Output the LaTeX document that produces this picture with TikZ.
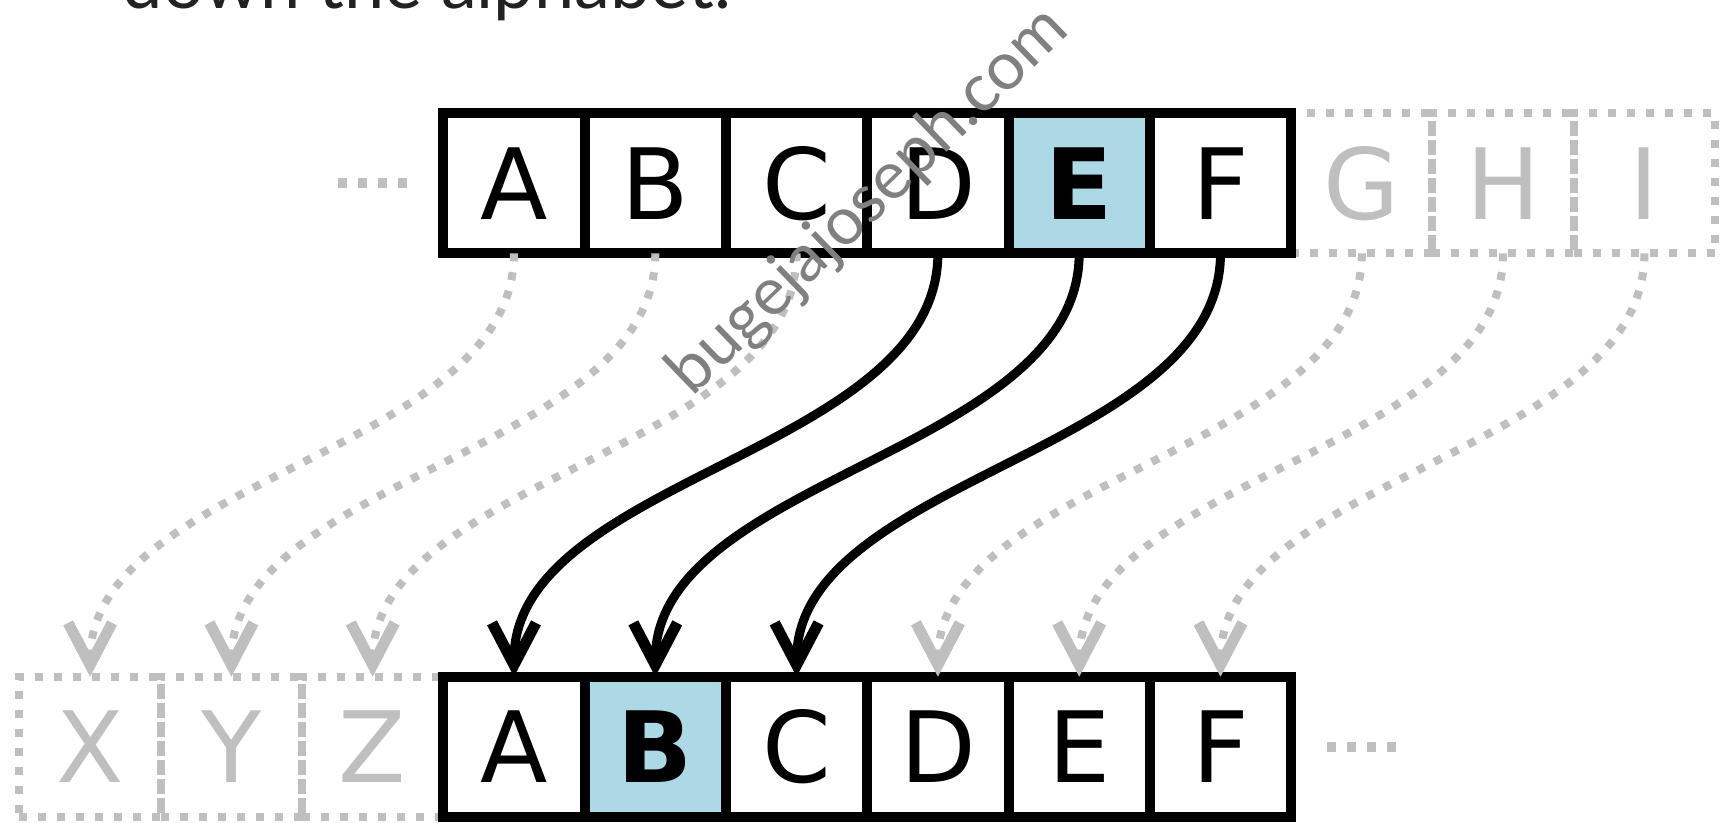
\documentclass[tikz,border=0pt]{standalone}
\usepackage{fontspec}
\setmainfont{DejaVu Sans}
\newfontfamily\blogfont{Lato}
\usetikzlibrary{arrows.meta,positioning,backgrounds}

\definecolor{shiftblue}{RGB}{173,216,230}
\definecolor{ghostgray}{RGB}{191,191,191}
\definecolor{markgray}{RGB}{128,128,128}
\definecolor{inkgray}{RGB}{34,34,34}

\begin{document}
\begin{tikzpicture}[
  node distance=0pt,
  cell/.style={draw, line width=1mm, minimum width=14.13mm, minimum height=14mm,
               inner sep=0pt, outer sep=0pt, font=\fontsize{28}{34}\selectfont},
  hit/.style={cell, fill=shiftblue, font=\fontsize{28}{34}\selectfont\bfseries},
  ghost/.style={cell, draw=ghostgray, text=ghostgray, line width=0.8mm,
                dash pattern=on 0.8mm off 1.1mm},
  shiftarrow/.style={draw, line width=0.9mm, out=-90, in=90, looseness=0.85,
                     -{Straight Barb[length=4.2mm, width=4.4mm, line width=1.1mm]}},
  wraparrow/.style={shiftarrow, draw=ghostgray, line width=0.8mm,
                    dash pattern=on 0.8mm off 1.1mm},
  moredots/.style={draw=ghostgray, line width=1mm, dash pattern=on 0.9mm off 1.1mm}
]
\useasboundingbox (0,0) rectangle (17.21,-8.22);

\node[anchor=base west, inner sep=0pt, text=inkgray,
      font=\blogfont\fontsize{20.5}{24}\selectfont] (title) at (1.22,-0.08) {down the alphabet.};

% plain alphabet
\node[cell] (plainA) at (5.14,-1.833) {A};
\node[cell, right=of plainA] (plainB) {B};
\node[cell, right=of plainB] (plainC) {C};
\node[cell, right=of plainC] (plainD) {D};
\node[hit, right=of plainD] (plainE) {E};
\node[cell, right=of plainE] (plainF) {F};

% shifted alphabet
\node[cell, below=42.34mm of plainA] (cipherA) {A};
\node[hit, right=of cipherA] (cipherB) {B};
\node[cell, right=of cipherB] (cipherC) {C};
\node[cell, right=of cipherC] (cipherD) {D};
\node[cell, right=of cipherD] (cipherE) {E};
\node[cell, right=of cipherE] (cipherF) {F};

\begin{scope}[on background layer]
\node[ghost, right=of plainF] (plainG) {G};
\node[ghost, right=of plainG] (plainH) {H};
\node[ghost, right=of plainH] (plainI) {I};
\node[ghost, left=of cipherA] (cipherZ) {Z};
\node[ghost, left=of cipherZ] (cipherY) {Y};
\node[ghost, left=of cipherY] (cipherX) {X};
\end{scope}

\draw[moredots] ([xshift=-3.63mm]plainA.west) -- ++(-7mm,0);
\draw[moredots] ([xshift=3.63mm]cipherF.east) -- ++(7mm,0);

\path (plainD) edge[shiftarrow] (cipherA)
      (plainE) edge[shiftarrow] (cipherB)
      (plainF) edge[shiftarrow] (cipherC)
      (plainA) edge[wraparrow] (cipherX)
      (plainB) edge[wraparrow] (cipherY)
      (plainC) edge[wraparrow] (cipherZ)
      (plainG) edge[wraparrow] (cipherD)
      (plainH) edge[wraparrow] (cipherE)
      (plainI) edge[wraparrow] (cipherF);

\node[rotate=44, inner sep=0pt, text=markgray,
      font=\blogfont\fontsize{19}{23}\selectfont] (mark) at (8.69,-2.02) {bugejajoseph.com};
\end{tikzpicture}
\end{document}
